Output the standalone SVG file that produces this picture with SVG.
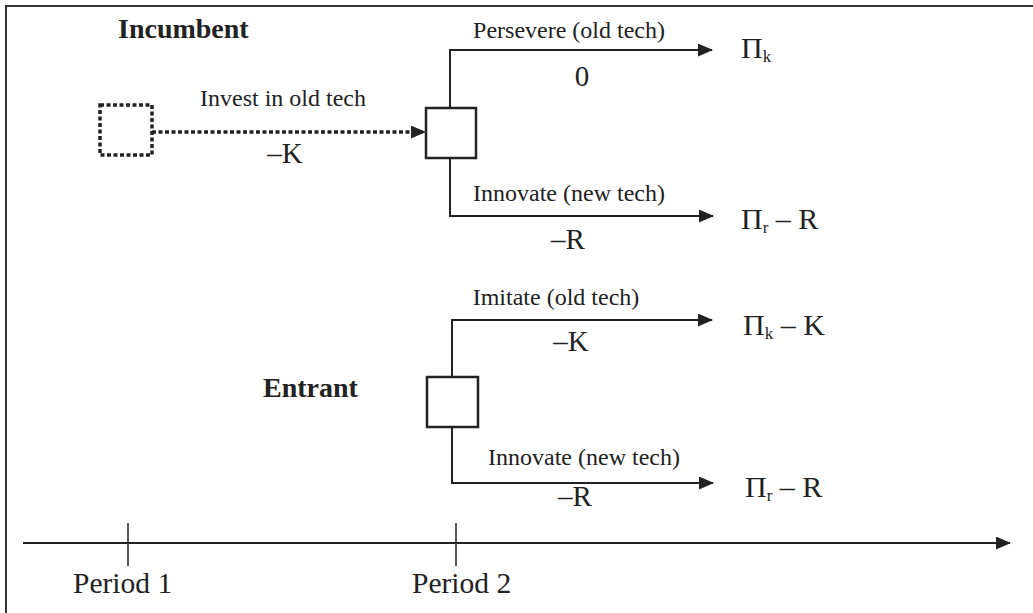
<svg xmlns="http://www.w3.org/2000/svg" width="1033" height="613" viewBox="0 0 1033 613">
<style>
text{font-family:"Liberation Serif","Times New Roman",serif;fill:#222}
.lbl{font-size:24px;text-anchor:middle}
.math{font-size:29px;text-anchor:middle}
.pay{font-size:30px}
.sub{font-size:17px}
.bold{font-size:28px;font-weight:bold}
.per{font-size:29.5px}
.ln{stroke:#222;stroke-width:2;fill:none}
.box{stroke:#222;stroke-width:2.5;fill:#fff}
</style>
<defs>
<marker id="ah" markerWidth="15" markerHeight="13" refX="14" refY="6.5" orient="auto" markerUnits="userSpaceOnUse">
<path d="M0,0 L15,6.5 L0,13 Z" fill="#222"/>
</marker>
</defs>
<g id="frame">
<path d="M6,613 V6 H1033" stroke="#333" stroke-width="2" fill="none"/>
</g>
<g id="connectors">
<line x1="152" y1="132" x2="425" y2="132" stroke="#222" stroke-width="3.5" stroke-dasharray="4 2.5" marker-end="url(#ah)"/>
<path class="ln" d="M450,108 V50 H712" marker-end="url(#ah)"/>
<path class="ln" d="M450,158 V216 H713" marker-end="url(#ah)"/>
<path class="ln" d="M452,377 V320 H712" marker-end="url(#ah)"/>
<path class="ln" d="M452,427 V483 H713" marker-end="url(#ah)"/>
<line class="ln" x1="23" y1="543" x2="1010" y2="543" marker-end="url(#ah)"/>
<line x1="128" y1="523" x2="128" y2="566" stroke="#222" stroke-width="1.5"/>
<line x1="456" y1="523" x2="456" y2="566" stroke="#222" stroke-width="1.5"/>
</g>
<g id="start">
<rect x="100" y="105" width="52" height="50" fill="none" stroke="#222" stroke-width="3.5" stroke-dasharray="4 2.5"/>
</g>
<g id="incumbent">
<rect class="box" x="426" y="108" width="50" height="50"/>
<text class="bold" x="118" y="38">Incumbent</text>
</g>
<g id="entrant">
<rect class="box" x="427" y="377" width="51" height="50"/>
<text class="bold" x="263" y="397">Entrant</text>
</g>
<g id="labels">
<text class="lbl" x="283" y="106">Invest in old tech</text>
<text class="math" x="285" y="163">–K</text>
<text class="lbl" x="569" y="38">Persevere (old tech)</text>
<text class="math" x="582" y="86">0</text>
<text class="lbl" x="569" y="201">Innovate (new tech)</text>
<text class="math" x="568" y="249">–R</text>
<text class="lbl" x="556" y="305">Imitate (old tech)</text>
<text class="math" x="571" y="351">–K</text>
<text class="lbl" x="584" y="465">Innovate (new tech)</text>
<text class="math" x="575" y="506">–R</text>
</g>
<g id="payoffs">
<text class="pay" x="741" y="58">Π<tspan class="sub" dy="4">k</tspan></text>
<text class="pay" x="741" y="229">Π<tspan class="sub" dy="4">r</tspan><tspan dy="-4"> – R</tspan></text>
<text class="pay" x="743" y="335">Π<tspan class="sub" dy="4">k</tspan><tspan dy="-4"> – K</tspan></text>
<text class="pay" x="745" y="497">Π<tspan class="sub" dy="4">r</tspan><tspan dy="-4"> – R</tspan></text>
</g>
<g id="axis-labels">
<text class="per" x="73" y="593">Period 1</text>
<text class="per" x="412" y="593">Period 2</text>
</g>
</svg>
